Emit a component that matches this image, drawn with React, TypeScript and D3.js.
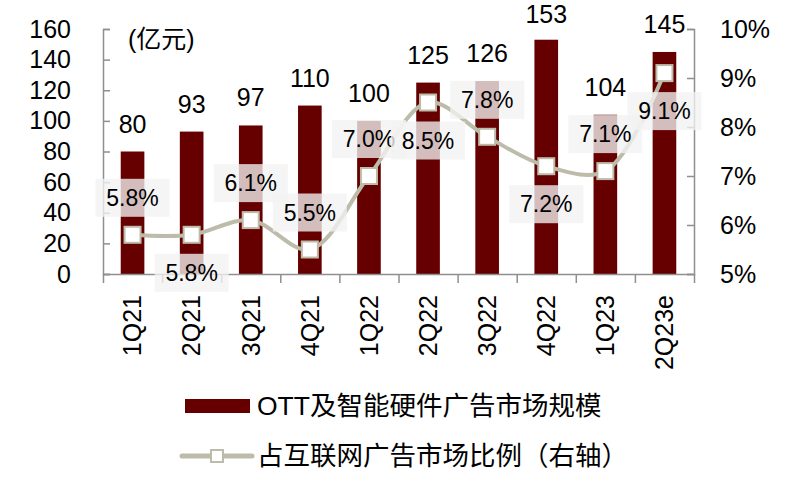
import { useRef, useEffect } from 'react';
import * as d3 from 'd3';

const WIDTH = 800;
const HEIGHT = 483;
const PLOT = { left: 103, right: 694, top: 29, bottom: 274 };

const categories = ['1Q21', '2Q21', '3Q21', '4Q21', '1Q22', '2Q22', '3Q22', '4Q22', '1Q23', '2Q23e'];
const marketSize = [80, 93, 97, 110, 100, 125, 126, 153, 104, 145]; // 亿元
const internetShare = [5.8, 5.8, 6.1, 5.5, 7.0, 8.5, 7.8, 7.2, 7.1, 9.1]; // %
const leftTicks = [0, 20, 40, 60, 80, 100, 120, 140, 160];
const rightTicks = [5, 6, 7, 8, 9, 10];
const barLegend = 'OTT及智能硬件广告市场规模';
const lineLegend = '占互联网广告市场比例（右轴）';
const unitLabel = '(亿元)';

// which share labels sit under the marker instead of above it
const LABEL_BELOW = new Set(['2Q21', '2Q22', '4Q22', '2Q23e']);

const BAR_COLOR = '#660000';
const LINE_COLOR = '#bdbcab';
const AXIS_COLOR = '#8f8f8f';
const FONT = '"Liberation Sans", Arial, "Noto Sans CJK SC", sans-serif';

export default function App() {
  const svgRef = useRef<SVGSVGElement | null>(null);

  useEffect(() => {
    const svg = d3.select(svgRef.current);
    svg.selectAll('*').remove();

    const x = d3.scaleBand<string>()
      .domain(categories)
      .range([PLOT.left, PLOT.right])
      .paddingInner(0.6)
      .paddingOuter(0.3);
    const xIdx = d3.scaleLinear().domain([0, categories.length]).range([PLOT.left, PLOT.right]);
    const yL = d3.scaleLinear().domain([0, 160]).range([PLOT.bottom, PLOT.top]);
    const yR = d3.scaleLinear().domain([5, 10]).range([PLOT.bottom, PLOT.top]);
    const cx = (c: string) => (x(c) ?? 0) + x.bandwidth() / 2;

    const data = categories.map((c, i) => ({ cat: c, size: marketSize[i], share: internetShare[i] }));

    // Bars
    svg.append('g').selectAll('rect')
      .data(data)
      .join('rect')
      .attr('x', d => x(d.cat) ?? 0)
      .attr('width', x.bandwidth())
      .attr('y', d => yL(d.size))
      .attr('height', d => yL(0) - yL(d.size))
      .attr('fill', BAR_COLOR);

    // Axes
    const styleAxis = (g: any) => {
      g.select('.domain').attr('stroke', AXIS_COLOR).attr('stroke-width', 1.5);
      g.selectAll('.tick line').attr('stroke', AXIS_COLOR).attr('stroke-width', 1.5);
      g.selectAll('.tick text')
        .attr('fill', '#000')
        .attr('font-size', 25)
        .attr('font-family', FONT);
    };

    svg.append('g')
      .attr('transform', `translate(${PLOT.left},0)`)
      .call(d3.axisLeft(yL).tickValues(leftTicks).tickSizeInner(-7).tickSizeOuter(-7).tickPadding(32))
      .call(styleAxis);

    svg.append('g')
      .attr('transform', `translate(${PLOT.right},0)`)
      .call(d3.axisRight(yR).tickValues(rightTicks).tickSizeInner(-7).tickSizeOuter(-7).tickPadding(26)
        .tickFormat(d => `${d}%`))
      .call(styleAxis);

    svg.append('g')
      .attr('transform', `translate(0,${PLOT.bottom})`)
      .call(d3.axisBottom(xIdx).tickValues(d3.range(categories.length + 1)).tickSize(9).tickSizeOuter(0).tickFormat(() => ''))
      .call(styleAxis);

    // Category labels, rotated
    svg.append('g').selectAll('text')
      .data(categories)
      .join('text')
      .attr('transform', c => `translate(${cx(c)},${PLOT.bottom + 21}) rotate(-90)`)
      .attr('text-anchor', 'end')
      .attr('dy', '0.35em')
      .attr('font-size', 25)
      .attr('font-family', FONT)
      .text(c => c);

    // Bar value labels
    svg.append('g').selectAll('text')
      .data(data)
      .join('text')
      .attr('x', d => cx(d.cat))
      .attr('y', d => Math.max(yL(d.size) - 19, 23))
      .attr('text-anchor', 'middle')
      .attr('font-size', 25)
      .attr('font-family', FONT)
      .text(d => d.size);

    // Share line
    const line = d3.line<typeof data[number]>()
      .x(d => cx(d.cat))
      .y(d => yR(d.share))
      .curve(d3.curveCatmullRom.alpha(0.5));

    svg.append('path')
      .datum(data)
      .attr('d', line)
      .attr('fill', 'none')
      .attr('stroke', LINE_COLOR)
      .attr('stroke-width', 4);

    svg.append('g').selectAll('rect')
      .data(data)
      .join('rect')
      .attr('x', d => cx(d.cat) - 8)
      .attr('y', d => yR(d.share) - 8)
      .attr('width', 16)
      .attr('height', 16)
      .attr('fill', '#fff')
      .attr('stroke', LINE_COLOR)
      .attr('stroke-width', 2);

    // Share labels with light boxes
    const lbl = svg.append('g').selectAll('g')
      .data(data)
      .join('g')
      .attr('transform', d => `translate(${cx(d.cat)},${yR(d.share) + (LABEL_BELOW.has(d.cat) ? 38 : -37)})`);
    lbl.append('rect')
      .attr('x', -37).attr('y', -19)
      .attr('width', 74).attr('height', 38)
      .attr('fill', '#f2f2f2')
      .attr('fill-opacity', 0.78);
    lbl.append('text')
      .attr('text-anchor', 'middle')
      .attr('dy', '0.36em')
      .attr('font-size', 23)
      .attr('font-family', FONT)
      .text(d => `${d.share.toFixed(1)}%`);

    // Unit
    svg.append('text')
      .attr('x', 128).attr('y', 39)
      .attr('dy', '0.35em')
      .attr('font-size', 25)
      .attr('font-family', FONT)
      .text(unitLabel);

    // Legend
    const leg = svg.append('g').attr('font-family', FONT).attr('font-size', 26.5);
    leg.append('rect')
      .attr('x', 185).attr('y', 399).attr('width', 65).attr('height', 14)
      .attr('fill', BAR_COLOR);
    leg.append('text')
      .attr('x', 257).attr('y', 406).attr('dy', '0.35em')
      .text(barLegend);
    leg.append('line')
      .attr('x1', 182).attr('x2', 252).attr('y1', 456).attr('y2', 456)
      .attr('stroke', LINE_COLOR).attr('stroke-width', 5).attr('stroke-linecap', 'round');
    leg.append('rect')
      .attr('x', 211).attr('y', 450).attr('width', 12).attr('height', 12)
      .attr('fill', '#fff').attr('stroke', LINE_COLOR).attr('stroke-width', 2);
    leg.append('text')
      .attr('x', 257).attr('y', 456).attr('dy', '0.35em')
      .text(lineLegend);
  }, []);

  return (
    <svg
      ref={svgRef}
      width={WIDTH}
      height={HEIGHT}
      style={{ position: 'absolute', left: 0, top: 0, background: '#fff' }}
    />
  );
}
